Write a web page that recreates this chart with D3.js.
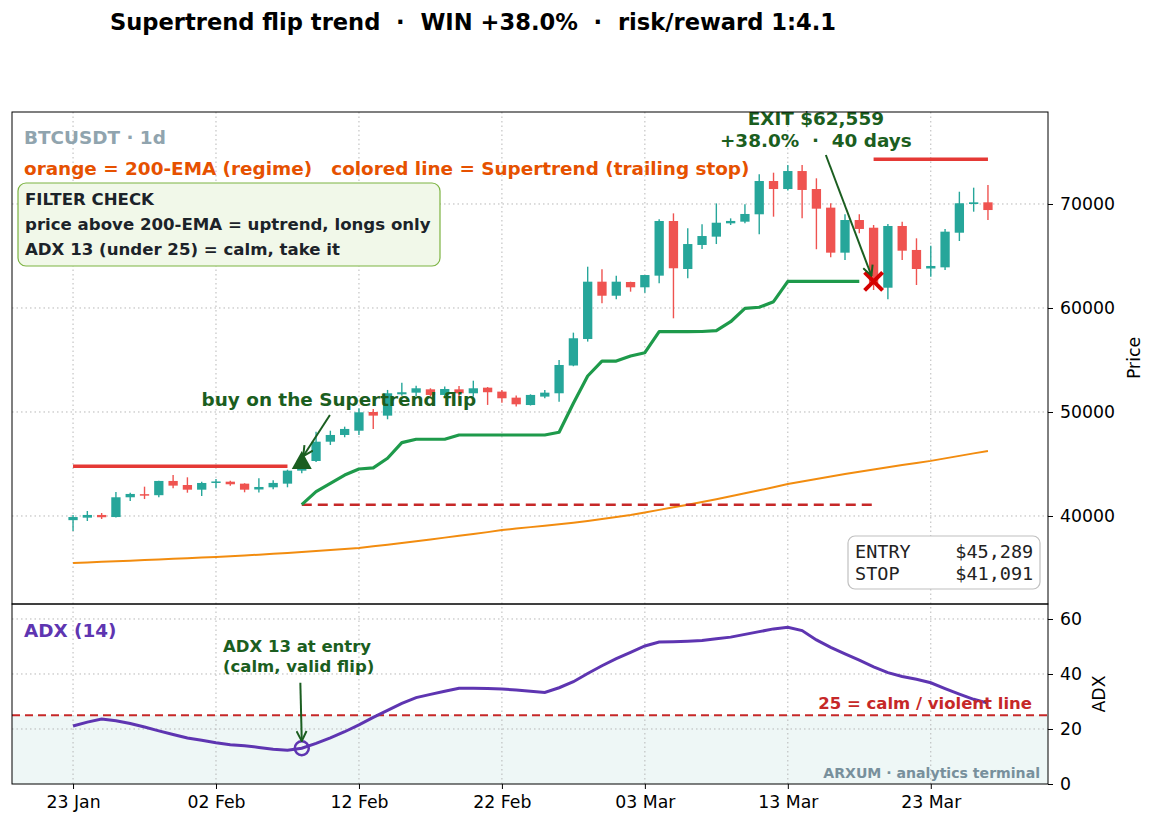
<!DOCTYPE html>
<html>
<head>
<meta charset="utf-8">
<script src="https://cdn.jsdelivr.net/npm/d3@7"></script>
<style>
  html, body { margin: 0; padding: 0; background: #fff; }
  svg text { font-family: 'DejaVu Sans', sans-serif; }
</style>
</head>
<body>
<svg id="chart" width="1155" height="826"></svg>
<script>
/* Supertrend flip trade: BTCUSDT daily candles + supertrend + 200-EMA, ADX panel below */
const START = Date.UTC(2024, 0, 23);
const DAY = 86400000;

const OPEN = [39600, 39840, 40100, 39900, 41800, 42100, 42000, 43370, 42980, 42530, 43180, 43300, 43110, 42550, 42760, 43110,
  44360, 45289, 47145, 47790, 48200, 50000, 49650, 51700, 51860, 52180, 51640, 52180, 51800, 52340, 51960, 51380,
  50670, 51480, 51800, 54470, 57020, 62530, 61180, 62500, 61990, 63110, 68365, 63750, 66060, 66860, 68140, 68300,
  69010, 72210, 71440, 73170, 71440, 69650, 65320, 68460, 67720, 61950, 67885, 65580, 63800, 63910, 67240, 70000, 70160];
const HIGH = [40100, 40480, 40290, 42310, 42240, 42820, 43400, 43940, 43720, 43300, 43560, 43400, 43150, 43630, 43430, 44450,
  45500, 48100, 48200, 48590, 50360, 50290, 52120, 52820, 52530, 52280, 52440, 52500, 53010, 52400, 52120, 51580,
  51700, 52120, 55000, 57630, 63970, 63720, 63110, 62530, 63170, 68530, 69100, 67660, 68050, 70060, 68620, 69970,
  72860, 73010, 73750, 73750, 72470, 70060, 69010, 69010, 67980, 68080, 68300, 66700, 65990, 67600, 71180, 71570, 71830];
const LOW = [38560, 39520, 39710, 39850, 41440, 41630, 41800, 42660, 42240, 41920, 42660, 42920, 42280, 42250, 42570, 42760,
  44100, 45200, 46830, 47570, 47790, 48370, 49300, 51570, 51540, 51480, 51480, 51320, 51480, 50680, 50900, 50520,
  50620, 51320, 50990, 54400, 56770, 60450, 60840, 61570, 61470, 62370, 59010, 62850, 65670, 66150, 67980, 68140,
  67090, 68780, 71300, 68620, 65650, 64870, 64620, 67180, 61730, 60840, 64620, 62210, 63010, 63650, 66440, 69260, 68460];
const CLOSE = [39900, 40100, 39880, 41800, 42120, 42000, 43370, 42920, 42530, 43175, 43320, 43050, 42530, 42790, 43180, 44360,
  45289, 47145, 47790, 48370, 49970, 49650, 51800, 51900, 52280, 51640, 52210, 51800, 52280, 51900, 51320, 50740,
  51640, 51860, 54520, 57090, 62530, 61180, 62530, 61990, 63170, 68365, 63820, 66150, 66920, 68200, 68370, 69040,
  72210, 71440, 73170, 71350, 69550, 65320, 68460, 67600, 62400, 67885, 65510, 63750, 64040, 67340, 70070, 70160, 69420];

const EMA200 = [35480, 35530, 35590, 35650, 35700, 35760, 35820, 35880, 35940, 36000, 36060, 36130, 36200, 36280, 36360, 36450,
  36540, 36630, 36730, 36820, 36920, 37080, 37240, 37410, 37580, 37750, 37920, 38090, 38260, 38450, 38650, 38790,
  38930, 39060, 39200, 39360, 39530, 39710, 39900, 40100, 40340, 40590, 40840, 41090, 41350, 41620, 41900, 42180,
  42470, 42770, 43070, 43310, 43550, 43790, 44030, 44260, 44480, 44690, 44900, 45100, 45300, 45540, 45780, 46020, 46250];

const SUPERTREND = [44780, 44780, 44780, 44780, 44780, 44780, 44780, 44780, 44780, 44780, 44780, 44780, 44780, 44780, 44780, 44780,
  41091, 42340, 43130, 43940, 44520, 44620, 45550, 47050, 47380, 47380, 47380, 47790, 47790, 47790, 47790, 47790,
  47790, 47790, 48050, 50840, 53460, 54900, 54900, 55390, 55700, 57720, 57720, 57720, 57740, 57820, 58680, 59970,
  60070, 60610, 62559, 62559, 62559, 62559, 62559, 62559, 74300, 74300, 74300, 74300, 74300, 74300, 74300, 74300, 74300];
const ST_DIR = ['dn','dn','dn','dn','dn','dn','dn','dn','dn','dn','dn','dn','dn','dn','dn','dn',
  'up','up','up','up','up','up','up','up','up','up','up','up','up','up','up','up',
  'up','up','up','up','up','up','up','up','up','up','up','up','up','up','up','up',
  'up','up','up','up','up','up','up','up','dn','dn','dn','dn','dn','dn','dn','dn','dn'];

const ADX = [21.1, 22.5, 23.6, 23.0, 22.0, 20.7, 19.3, 18.0, 16.7, 15.9, 15.0, 14.3, 13.9, 13.3, 12.6, 12.3,
  13.0, 14.8, 16.8, 19.0, 21.5, 24.2, 26.8, 29.3, 31.4, 32.6, 33.7, 34.8, 34.8, 34.7, 34.5, 34.2,
  33.7, 33.3, 35.0, 37.2, 40.2, 43.0, 45.6, 47.9, 50.2, 51.6, 51.7, 51.9, 52.2, 52.8, 53.4, 54.4,
  55.4, 56.4, 57.0, 55.8, 52.4, 49.7, 47.3, 45.0, 42.6, 40.5, 39.1, 38.1, 36.8, 34.7, 32.7, 30.8, 29.4];

const ENTRY_IDX = 16, EXIT_IDX = 56;
const ENTRY_PRICE = 45289, STOP_PRICE = 41091, EXIT_PRICE = 62559;
const ADX_CALM = 25;
const X_TICK_DAYS = [0, 10, 20, 30, 40, 50, 60];
const PRICE_TICKS = [40000, 50000, 60000, 70000];
const ADX_TICKS = [0, 20, 40, 60];

(function () {
  'use strict';

  const C = {
    up: '#26a69a', dn: '#ef5350', stUp: '#1e9a4b', stDn: '#e53935', stop: '#c62828',
    ema: '#f28c0f', adx: '#5e35b1', dark: '#1b5e20', grid: '#b0b0b0'
  };
  const L = 12, R = 1048, T1 = 112, B1 = 604, B2 = 784;
  const BIG = '18.4px';

  const x = d3.scaleUtc()
    .domain([new Date(START - 4.27 * DAY), new Date(START + 68.2 * DAY)])
    .range([L, R]);
  const y = d3.scaleLinear().domain([31538, 78846]).range([B1, T1]);
  const ya = d3.scaleLinear().domain([0, 65.45]).range([B2, B1]);
  const xi = i => x(new Date(START + i * DAY));

  const svg = d3.select('#chart');
  const defs = svg.append('defs');
  defs.append('marker').attr('id', 'arr').attr('viewBox', '0 0 12 12')
    .attr('refX', 11).attr('refY', 6).attr('markerWidth', 12).attr('markerHeight', 12)
    .attr('markerUnits', 'userSpaceOnUse').attr('orient', 'auto')
    .append('path').attr('d', 'M1,1 L11,6 L1,11').attr('fill', 'none')
    .attr('stroke', C.dark).attr('stroke-width', 2);
  defs.append('clipPath').attr('id', 'clipMain').append('rect')
    .attr('x', L).attr('y', T1).attr('width', R - L).attr('height', B1 - T1);

  // title
  svg.append('text').attr('x', 473).attr('y', 30).attr('text-anchor', 'middle')
    .style('font-size', '22.6px').style('font-weight', 'bold').style('white-space', 'pre')
    .text('Supertrend flip trend  ·  WIN +38.0%  ·  risk/reward 1:4.1');

  // ---------- grids ----------
  svg.append('rect').attr('x', L).attr('y', ya(ADX_CALM)).attr('width', R - L)
    .attr('height', ya(0) - ya(ADX_CALM)).attr('fill', '#eef7f6');
  const grid = svg.append('g').attr('stroke', C.grid).attr('stroke-width', 0.9).attr('stroke-dasharray', '1.5 3');
  X_TICK_DAYS.forEach(d => {
    grid.append('line').attr('x1', xi(d)).attr('x2', xi(d)).attr('y1', T1).attr('y2', B2);
  });
  PRICE_TICKS.forEach(v => grid.append('line').attr('x1', L).attr('x2', R).attr('y1', y(v)).attr('y2', y(v)));
  ADX_TICKS.filter(v => v > 0).forEach(v => grid.append('line').attr('x1', L).attr('x2', R).attr('y1', ya(v)).attr('y2', ya(v)));

  // ---------- main panel ----------
  const main = svg.append('g').attr('clip-path', 'url(#clipMain)');

  main.append('path').datum(EMA200)
    .attr('d', d3.line().x((d, i) => xi(i)).y(d => y(d)))
    .attr('fill', 'none').attr('stroke', C.ema).attr('stroke-width', 2);

  // stop line (entry -> exit)
  main.append('line').attr('x1', xi(ENTRY_IDX)).attr('x2', xi(EXIT_IDX))
    .attr('y1', y(STOP_PRICE)).attr('y2', y(STOP_PRICE))
    .attr('stroke', C.stop).attr('stroke-width', 2.5).attr('stroke-dasharray', '10 6');

  // candles
  const bw = xi(0.65) - xi(0);
  const cg = main.append('g');
  OPEN.forEach((o, i) => {
    const c = CLOSE[i];
    const col = c >= o ? C.up : C.dn;
    const cx = xi(i);
    cg.append('line').attr('x1', cx).attr('x2', cx).attr('y1', y(HIGH[i])).attr('y2', y(LOW[i]))
      .attr('stroke', col).attr('stroke-width', 1.4);
    const top = y(Math.max(o, c)), bot = y(Math.min(o, c));
    cg.append('rect').attr('x', cx - bw / 2).attr('y', top).attr('width', bw)
      .attr('height', Math.max(bot - top, 1.5)).attr('fill', col);
  });

  // supertrend segments
  const segs = [];
  SUPERTREND.forEach((v, i) => {
    const last = segs[segs.length - 1];
    if (!last || last.dir !== ST_DIR[i]) segs.push({ dir: ST_DIR[i], pts: [[i, v]] });
    else last.pts.push([i, v]);
  });
  segs.forEach(s => {
    main.append('path').datum(s.pts)
      .attr('d', d3.line().x(d => xi(d[0])).y(d => y(d[1])))
      .attr('fill', 'none').attr('stroke', s.dir === 'up' ? C.stUp : C.stDn)
      .attr('stroke-width', s.dir === 'up' ? 3.2 : 3.5).attr('stroke-linejoin', 'round');
  });

  // entry triangle + exit cross
  const ex = xi(ENTRY_IDX), ey = y(ENTRY_PRICE);
  main.append('path').attr('d', `M${ex},${ey - 10} L${ex + 10},${ey + 8} L${ex - 10},${ey + 8} Z`).attr('fill', C.dark);
  const qx = xi(EXIT_IDX), qy = y(EXIT_PRICE);
  main.append('path').attr('d', `M${qx - 9},${qy - 9} L${qx + 9},${qy + 9} M${qx - 9},${qy + 9} L${qx + 9},${qy - 9}`)
    .attr('stroke', '#d50000').attr('stroke-width', 4);

  // annotations
  svg.append('text').attr('x', xi(18.6)).attr('y', y(50600)).attr('text-anchor', 'middle')
    .style('font-size', BIG).style('font-weight', 'bold').style('fill', C.dark)
    .text('buy on the Supertrend flip');
  svg.append('line').attr('x1', xi(17.97)).attr('y1', y(49710)).attr('x2', xi(16.1)).attr('y2', y(45750))
    .attr('stroke', C.dark).attr('stroke-width', 2).attr('marker-end', 'url(#arr)');

  svg.append('text').attr('x', xi(51.96)).attr('y', y(77596)).attr('text-anchor', 'middle')
    .style('font-size', BIG).style('font-weight', 'bold').style('fill', C.dark)
    .text('EXIT $62,559');
  svg.append('text').attr('x', xi(51.96)).attr('y', y(75480)).attr('text-anchor', 'middle')
    .style('font-size', BIG).style('font-weight', 'bold').style('fill', C.dark).style('white-space', 'pre')
    .text('+38.0%  ·  40 days');
  svg.append('line').attr('x1', xi(52.66)).attr('y1', y(74711)).attr('x2', xi(55.85)).attr('y2', y(63100))
    .attr('stroke', C.dark).attr('stroke-width', 2).attr('marker-end', 'url(#arr)');

  // header texts
  svg.append('text').attr('x', 24).attr('y', 144).style('font-size', BIG).style('font-weight', 'bold')
    .style('fill', '#90a4ae').text('BTCUSDT · 1d');
  svg.append('text').attr('x', 24).attr('y', 175).style('font-size', BIG).style('font-weight', 'bold')
    .style('fill', '#e65100').style('white-space', 'pre')
    .text('orange = 200-EMA (regime)   colored line = Supertrend (trailing stop)');

  // filter box
  svg.append('rect').attr('x', 18).attr('y', 183).attr('width', 422).attr('height', 83).attr('rx', 8)
    .attr('fill', '#f1f8e9').attr('stroke', '#7cb342').attr('stroke-width', 1.2);
  ['FILTER CHECK', 'price above 200-EMA = uptrend, longs only', 'ADX 13 (under 25) = calm, take it']
    .forEach((t, i) => {
      svg.append('text').attr('x', 25).attr('y', 205 + i * 25).style('font-size', '16.6px')
        .style('font-weight', 'bold').style('fill', '#1c2329').text(t);
    });

  // entry/stop box
  svg.append('rect').attr('x', 848).attr('y', 536).attr('width', 192).attr('height', 53).attr('rx', 7)
    .attr('fill', '#fff').attr('stroke', '#c0c0c0').attr('stroke-width', 1.2);
  [['ENTRY    $45,289', 558], ['STOP     $41,091', 580]].forEach(d => {
    svg.append('text').attr('x', 855).attr('y', d[1]).style('font-family', "'DejaVu Sans Mono', monospace")
      .style('font-size', '18.5px').style('fill', '#222').style('white-space', 'pre').text(d[0]);
  });

  // ---------- ADX panel ----------
  svg.append('line').attr('x1', L).attr('x2', R).attr('y1', ya(ADX_CALM)).attr('y2', ya(ADX_CALM))
    .attr('stroke', C.stop).attr('stroke-width', 2).attr('stroke-dasharray', '8 5');
  svg.append('path').datum(ADX)
    .attr('d', d3.line().x((d, i) => xi(i)).y(d => ya(d)))
    .attr('fill', 'none').attr('stroke', C.adx).attr('stroke-width', 3);
  svg.append('circle').attr('cx', xi(ENTRY_IDX)).attr('cy', ya(ADX[ENTRY_IDX])).attr('r', 7)
    .attr('fill', 'none').attr('stroke', C.adx).attr('stroke-width', 2.5);

  svg.append('text').attr('x', 24).attr('y', 637).style('font-size', BIG).style('font-weight', 'bold')
    .style('fill', C.adx).text('ADX (14)');
  svg.append('text').attr('x', xi(10.49)).attr('y', ya(48)).style('font-size', '16.5px').style('font-weight', 'bold')
    .style('fill', C.dark).text('ADX 13 at entry');
  svg.append('text').attr('x', xi(10.49)).attr('y', ya(40.7)).style('font-size', '16.5px').style('font-weight', 'bold')
    .style('fill', C.dark).text('(calm, valid flip)');
  svg.append('line').attr('x1', xi(15.9)).attr('y1', ya(36.8)).attr('x2', xi(16)).attr('y2', ya(15.6))
    .attr('stroke', C.dark).attr('stroke-width', 2).attr('marker-end', 'url(#arr)');
  svg.append('text').attr('x', R - 16).attr('y', ya(27.3)).attr('text-anchor', 'end')
    .style('font-size', '16.5px').style('font-weight', 'bold').style('fill', C.stop).text('25 = calm / violent line');
  svg.append('text').attr('x', R - 8).attr('y', 778).attr('text-anchor', 'end')
    .style('font-size', '14.1px').style('font-weight', 'bold').style('fill', '#78909c')
    .text('ARXUM · analytics terminal');

  // ---------- frames + axes ----------
  svg.append('rect').attr('x', L).attr('y', T1).attr('width', R - L).attr('height', B1 - T1)
    .attr('fill', 'none').attr('stroke', '#000').attr('stroke-width', 1);
  svg.append('rect').attr('x', L).attr('y', B1).attr('width', R - L).attr('height', B2 - B1)
    .attr('fill', 'none').attr('stroke', '#000').attr('stroke-width', 1);

  const styleAxis = g => {
    g.select('.domain').remove();
    g.selectAll('text').style('font-size', '17.3px').style('fill', '#000')
      .style('font-family', "'DejaVu Sans', sans-serif");
    g.selectAll('line').attr('stroke', '#000');
  };
  svg.append('g').attr('transform', `translate(${R},0)`)
    .call(d3.axisRight(y).tickValues(PRICE_TICKS).tickSize(5).tickPadding(7).tickFormat(d3.format('d')))
    .call(styleAxis);
  svg.append('g').attr('transform', `translate(${R},0)`)
    .call(d3.axisRight(ya).tickValues(ADX_TICKS).tickSize(5).tickPadding(7))
    .call(styleAxis);
  svg.append('g').attr('transform', `translate(0,${B2})`)
    .call(d3.axisBottom(x).tickValues(X_TICK_DAYS.map(d => new Date(START + d * DAY)))
      .tickSize(5).tickPadding(7).tickFormat(d3.utcFormat('%d %b')))
    .call(styleAxis);

  svg.append('text').attr('transform', `translate(1140,${(T1 + B1) / 2}) rotate(-90)`).attr('text-anchor', 'middle')
    .style('font-size', '17.3px').text('Price');
  svg.append('text').attr('transform', `translate(1105,${(B1 + B2) / 2}) rotate(-90)`).attr('text-anchor', 'middle')
    .style('font-size', '17.3px').text('ADX');
})();
</script>
</body>
</html>
